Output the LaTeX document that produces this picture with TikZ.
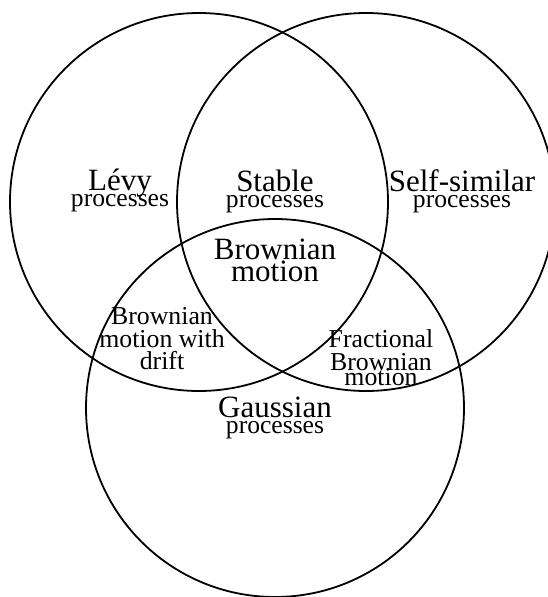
\documentclass[tikz,border=0pt]{standalone}
\usepackage{fontspec}
\setmainfont{Liberation Serif}
\tikzset{
  bigtxt/.style={inner sep=0pt,align=center,font=\fontsize{31}{22}\selectfont},
  midtxt/.style={inner sep=0pt,align=center,font=\fontsize{25.8}{22.5}\selectfont},
}
\newcommand{\proc}{\\[-6pt]\fontsize{25.6}{22}\selectfont processes}

\begin{document}
\begin{tikzpicture}[x=1pt,y=-1pt]
\path[use as bounding box] (0,0) rectangle (548,597);
\draw[line width=1.8pt] (199,202) circle (189pt);
\draw[line width=1.8pt] (366,202) circle (189pt);
\draw[line width=1.8pt] (275,408) circle (189pt);
\node[bigtxt] (levy) at (120,190) {Lévy\proc};
\node[bigtxt] (stable) at (275,191) {Stable\proc};
\node[bigtxt] (selfsim) at (462,191) {Self-similar\proc};
\node[bigtxt] (bm) at (275,260) {Brownian\\motion};
\node[midtxt] (drift) at (162,339) {Brownian\\motion with\\drift};
\node[midtxt] (fbm) at (381,358) {Fractional\\Brownian\\[-7pt]motion};
\node[bigtxt] (gauss) at (275,418) {Gaussian\proc};
\end{tikzpicture}
\end{document}
